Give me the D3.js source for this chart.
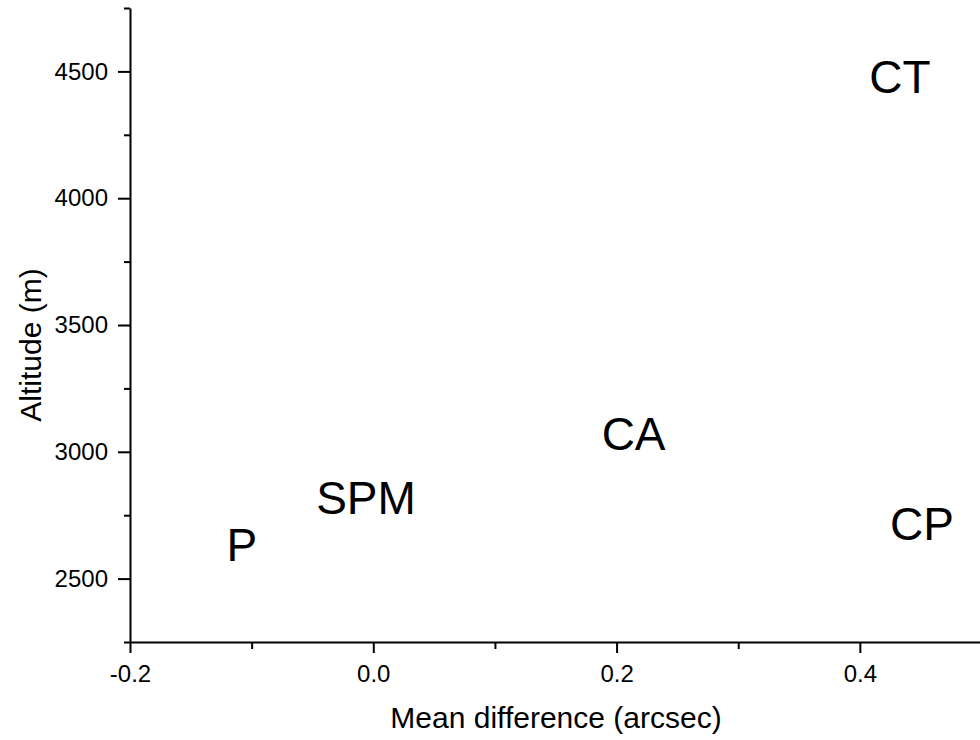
<!DOCTYPE html>
<html>
<head>
<meta charset="utf-8">
<script src="https://cdn.jsdelivr.net/npm/d3@7"></script>
<style>
  html, body { margin: 0; padding: 0; background: #fff; }
  svg { display: block; font-family: "Liberation Sans", Arial, sans-serif; }
</style>
</head>
<body>
<svg id="chart" width="980" height="740"></svg>
<script>
// Data (label positions in data units)
const sites = ["CT", "CP", "CA", "SPM", "P"];
const meanDiff = [0.433, 0.451, 0.214, -0.006, -0.108];
const altitude = [4478, 2715, 3069, 2817, 2634];

const xMajorTicks = [-0.2, 0.0, 0.2, 0.4];
const xMinorTicks = [-0.1, 0.1, 0.3];
const yMajorTicks = [2500, 3000, 3500, 4000, 4500];
const yMinorTicks = [2250, 2750, 3250, 3750, 4250, 4750];

const xDomain = [-0.2, 0.5];
const yDomain = [2250, 4750];

const svg = d3.select("#chart");
const mLeft = 130, mRight = 981.5, mTop = 8, mBottom = 642;

const x = d3.scaleLinear().domain(xDomain).range([mLeft, mRight]);
const y = d3.scaleLinear().domain(yDomain).range([mBottom, mTop]);

const tickFont = 24, titleFont = 30, labelFont = 46;
const fmtX = d => d.toFixed(1);
const fmtY = d => String(d);

// X axis
const gx = svg.append("g").attr("transform", `translate(0,${mBottom})`);
gx.call(d3.axisBottom(x).tickValues(xMajorTicks).tickSize(11).tickSizeOuter(0)
  .tickFormat(fmtX).tickPadding(12));
const gxMinor = svg.append("g").attr("transform", `translate(0,${mBottom})`);
gxMinor.call(d3.axisBottom(x).tickValues(xMinorTicks).tickSize(7).tickFormat(""));
gxMinor.select(".domain").remove();

// Y axis
const gy = svg.append("g").attr("transform", `translate(${mLeft},0)`);
gy.call(d3.axisLeft(y).tickValues(yMajorTicks).tickSize(12).tickSizeOuter(0)
  .tickFormat(fmtY).tickPadding(10));
const gyMinor = svg.append("g").attr("transform", `translate(${mLeft},0)`);
gyMinor.call(d3.axisLeft(y).tickValues(yMinorTicks).tickSize(6).tickFormat(""));
gyMinor.select(".domain").remove();

[gx, gxMinor, gy, gyMinor].forEach(g => g.attr("font-size", tickFont)
  .attr("font-family", "'Liberation Sans', Arial, sans-serif"));

svg.selectAll(".domain, .tick line")
  .attr("stroke", "#000").attr("stroke-width", 2);
svg.selectAll(".tick text")
  .attr("fill", "#000").style("font-size", tickFont + "px");

// Axis titles
svg.append("text")
  .attr("x", 556).attr("y", 728)
  .attr("text-anchor", "middle")
  .style("font-size", titleFont + "px")
  .text("Mean difference (arcsec)");

svg.append("text")
  .attr("transform", "translate(41,345) rotate(-90)")
  .attr("text-anchor", "middle")
  .style("font-size", titleFont + "px")
  .text("Altitude (m)");

// Site labels
svg.append("g").selectAll("text")
  .data(sites.map((s, i) => ({ s, xv: meanDiff[i], yv: altitude[i] })))
  .join("text")
  .attr("x", d => x(d.xv))
  .attr("y", d => y(d.yv))
  .attr("dy", "0.35em")
  .attr("text-anchor", "middle")
  .style("font-size", labelFont + "px")
  .attr("fill", "#000")
  .text(d => d.s);
</script>
</body>
</html>
